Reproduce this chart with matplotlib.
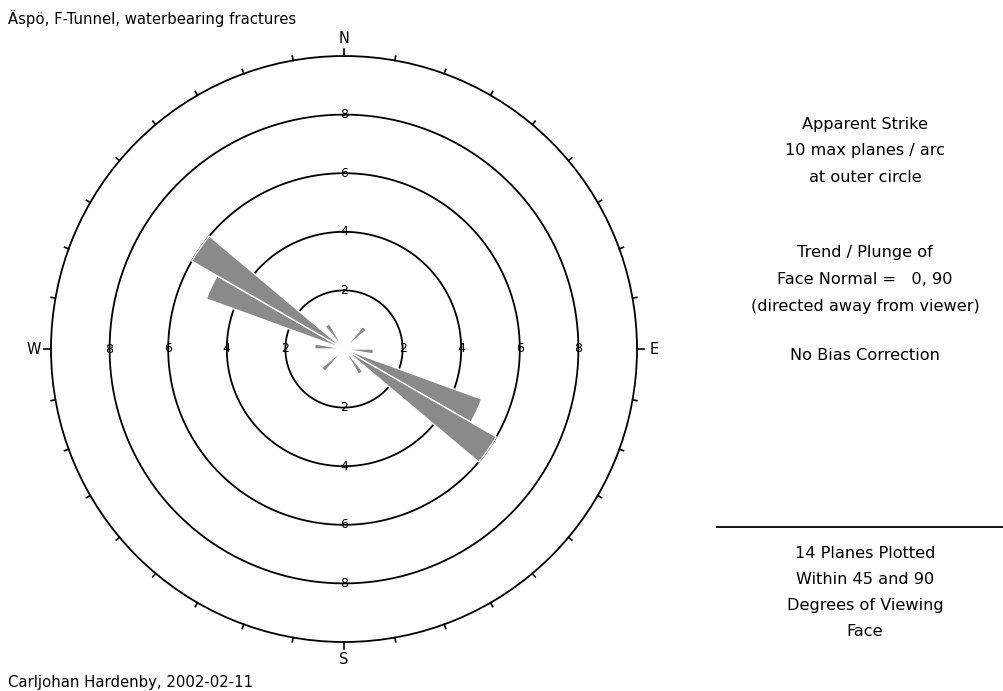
import numpy as np
import matplotlib
matplotlib.use("Agg")
import matplotlib.pyplot as plt
from matplotlib.lines import Line2D

# strike bins (start of 10 degree arc) and planes counted in each
strike_bins = [40, 90, 110, 120, 140]
plane_counts = [1, 1, 5, 6, 1]
bin_width = 10

ring_values = [2, 4, 6, 8]
outer_value = 10
cardinals = ["N", "E", "S", "W"]

title = "Äspö, F-Tunnel, waterbearing fractures"
author = "Carljohan Hardenby, 2002-02-11"
info_top = ["Apparent Strike", "10 max planes / arc", "at outer circle"]
info_mid = ["Trend / Plunge of", "Face Normal =   0, 90", "(directed away from viewer)"]
info_bias = ["No Bias Correction"]
info_bottom = ["14 Planes Plotted", "Within 45 and 90", "Degrees of Viewing", "Face"]

plt.rcParams["font.family"] = "DejaVu Sans"

W, H = 1004, 691
fig = plt.figure(figsize=(W / 100, H / 100), dpi=100)

# rose diagram: centre (344, 349) px, outer circle radius 293 px
cx, cy, R = 344, 349, 293
ax = fig.add_axes([(cx - R) / W, (H - cy - R) / H, 2 * R / W, 2 * R / H],
                  projection="polar")
ax.set_theta_zero_location("N")
ax.set_theta_direction(-1)
ax.set_ylim(0, outer_value)
ax.set_xticks([])
ax.set_yticks([])
ax.grid(False)
ax.spines["polar"].set_linewidth(1.3)
ax.patch.set_alpha(0)

# rings at 2, 4, 6, 8
t = np.linspace(0, 2 * np.pi, 721)
for rv in ring_values:
    ax.plot(t, np.full_like(t, rv), color="black", lw=1.3)

# ticks every 10 degrees, pointing outward
for deg in range(0, 360, 10):
    th = np.radians(deg)
    length = 0.25 if deg % 90 == 0 else 0.15
    ax.plot([th, th], [outer_value, outer_value + length], color="black",
            lw=1.2, clip_on=False)

# bidirectional petals
theta = np.radians(np.array(strike_bins) + bin_width / 2)
for shift in (0, np.pi):
    ax.bar(theta + shift, plane_counts, width=np.radians(bin_width),
           bottom=0, color="#8a8a8a", edgecolor="white", linewidth=1.0,
           align="center", zorder=3)

# ring labels along the four axes
for deg in (0, 90, 180, 270):
    for rv in ring_values:
        ax.text(np.radians(deg), rv, str(rv), ha="center", va="center",
                fontsize=9, zorder=4)

# N E S W
offs = {"N": 0, "E": 90, "S": 180, "W": 270}
for lab in cardinals:
    ax.text(np.radians(offs[lab]), outer_value + 0.6, lab, ha="center",
            va="center", fontsize=10.5, clip_on=False)

# texts around the plot
fig.text(8 / W, 1 - 18 / H, title, fontsize=10.7, ha="left", va="center")
fig.text(8 / W, 1 - 682 / H, author, fontsize=10.7, ha="left", va="center")

def block(lines, y0, dy=26.5, x=865):
    for i, s in enumerate(lines):
        fig.text(x / W, 1 - (y0 + i * dy) / H, s, fontsize=11.6,
                 ha="center", va="center")

block(info_top, 124, dy=26.5)
block(info_mid, 253, dy=26.5)
block(info_bias, 356)
block(info_bottom, 553, dy=26.3)

fig.add_artist(Line2D([717 / W, 1.0], [1 - 527 / H, 1 - 527 / H],
                      color="black", lw=1.3, transform=fig.transFigure))

fig.savefig("out.png", dpi=100)
